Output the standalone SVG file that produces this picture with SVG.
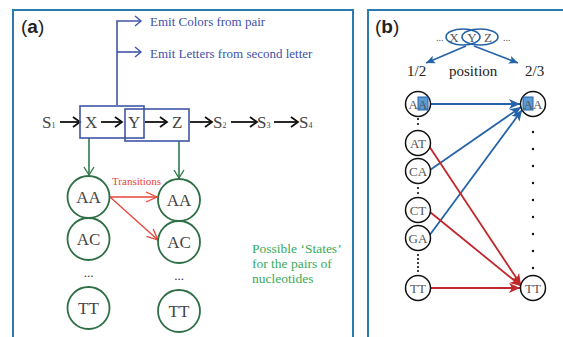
<svg xmlns="http://www.w3.org/2000/svg" width="563" height="337" viewBox="0 0 563 337">
<defs>
<style>
.frame{fill:none;stroke:#2b7bb0;stroke-width:2}
.lbl{font-family:"Liberation Sans",Arial,sans-serif;font-size:19px;fill:#222}
.mono{font-family:"Liberation Serif","Times New Roman",serif;font-size:17px;fill:#444}
.sub{font-size:8px}
.emit{font-family:"Liberation Serif","Times New Roman",serif;font-size:13px;fill:#4052a8}
.blue{fill:none;stroke:#3f56a6;stroke-width:1.6}
.blk{fill:none;stroke:#111;stroke-width:1.8}
.grn{fill:none;stroke:#2f7a4a;stroke-width:1.6}
.gcirc{fill:#fff;stroke:#2f6f45;stroke-width:1.8}
.red{fill:none;stroke:#e8443a;stroke-width:1.3}
.redtxt{font-family:"Liberation Serif","Times New Roman",serif;font-size:11px;fill:#e8443a}
.gtxt{font-family:"Liberation Serif","Times New Roman",serif;font-size:13.5px;fill:#3aaa5c}
.dots{font-family:"Liberation Serif","Times New Roman",serif;font-size:13px;fill:#333}
.bcirc{fill:#fff;stroke:#111;stroke-width:1.5}
.bmono{font-family:"Liberation Serif","Times New Roman",serif;font-size:13px;fill:#555}
.small{font-family:"Liberation Serif","Times New Roman",serif;font-size:10px;fill:#555}
.pos{font-family:"Liberation Serif","Times New Roman",serif;font-size:15px;fill:#222}
.bb{fill:none;stroke:#2563a8;stroke-width:1.8}
.rr{fill:none;stroke:#c0272d;stroke-width:1.8}
.hl{fill:#5b9bd5;stroke:#2563a8;stroke-width:1}
.dot{fill:#111}
</style>
<marker id="mBlk" markerWidth="10" markerHeight="12" refX="8" refY="6" orient="auto" markerUnits="userSpaceOnUse">
<path d="M1,1 L8,6 L1,11" fill="none" stroke="#111" stroke-width="1.8"/>
</marker>
<marker id="mBlue" markerWidth="10" markerHeight="12" refX="8" refY="6" orient="auto" markerUnits="userSpaceOnUse">
<path d="M2,1 L8,6 L2,11" fill="none" stroke="#3f56a6" stroke-width="1.4"/>
</marker>
<marker id="mGrn" markerWidth="12" markerHeight="12" refX="10" refY="6" orient="auto" markerUnits="userSpaceOnUse">
<path d="M2,1 L10,6 L2,11" fill="none" stroke="#2f7a4a" stroke-width="1.4"/>
</marker>
<marker id="mRed" markerWidth="14" markerHeight="12" refX="12" refY="6" orient="auto" markerUnits="userSpaceOnUse">
<path d="M1,1 L12,6 L1,11" fill="none" stroke="#e8443a" stroke-width="1.3"/>
</marker>
<marker id="mBB" markerWidth="12" markerHeight="12" refX="11" refY="6" orient="auto" markerUnits="userSpaceOnUse">
<path d="M0,1 L11,6 L0,11 L3,6 Z" fill="#2563a8"/>
</marker>
<marker id="mRR" markerWidth="12" markerHeight="12" refX="11" refY="6" orient="auto" markerUnits="userSpaceOnUse">
<path d="M0,1 L11,6 L0,11 L3,6 Z" fill="#c0272d"/>
</marker>
<marker id="mSB" markerWidth="10" markerHeight="10" refX="9" refY="5" orient="auto" markerUnits="userSpaceOnUse">
<path d="M0,1 L9,5 L0,9 L2,5 Z" fill="#2563a8"/>
</marker>
</defs>

<rect width="563" height="337" fill="#fff"/>

<!-- Panel (a) -->
<g id="panel-a">
<rect class="frame" x="13" y="10" width="340" height="345"/>
<text class="lbl" x="21" y="33">(<tspan font-weight="bold">a</tspan>)</text>
</g>

<g id="connectors-a">
<path class="blue" d="M117,105 V21 H141" marker-end="url(#mBlue)"/>
<path class="blue" d="M117,52 H141" marker-end="url(#mBlue)"/>
<line class="blk" x1="60" y1="122" x2="80" y2="122" marker-end="url(#mBlk)"/>
<line class="blk" x1="101" y1="122" x2="122" y2="122" marker-end="url(#mBlk)"/>
<line class="blk" x1="145" y1="122" x2="167" y2="122" marker-end="url(#mBlk)"/>
<line class="blk" x1="190" y1="122" x2="212" y2="122" marker-end="url(#mBlk)"/>
<line class="blk" x1="231" y1="122" x2="257" y2="122" marker-end="url(#mBlk)"/>
<line class="blk" x1="274" y1="122" x2="298" y2="122" marker-end="url(#mBlk)"/>
<line class="grn" x1="89" y1="138" x2="89" y2="175" marker-end="url(#mGrn)"/>
<line class="grn" x1="179" y1="141" x2="179" y2="178" marker-end="url(#mGrn)"/>
<line class="red" x1="110" y1="197" x2="157" y2="197" marker-end="url(#mRed)"/>
<line class="red" x1="110" y1="197" x2="158" y2="240" marker-end="url(#mRed)"/>
</g>

<g id="emit-labels">
<text class="emit" x="150" y="26">Emit Colors from pair</text>
<text class="emit" x="150" y="58">Emit Letters from second letter</text>
</g>

<g id="sequence">
<text class="mono" x="42" y="128">S<tspan class="sub">1</tspan></text>
<text class="mono" x="85" y="128">X</text>
<text class="mono" x="128" y="128">Y</text>
<text class="mono" x="172" y="128">Z</text>
<text class="mono" x="213" y="128">S<tspan class="sub">2</tspan></text>
<text class="mono" x="257" y="128">S<tspan class="sub">3</tspan></text>
<text class="mono" x="299" y="128">S<tspan class="sub">4</tspan></text>
</g>

<g id="box-xy">
<rect x="80" y="106" width="64" height="32" fill="none" stroke="#3f56a6" stroke-width="1.6"/>
</g>
<g id="box-yz">
<rect x="125" y="109" width="64" height="32" fill="none" stroke="#3f56a6" stroke-width="1.6"/>
</g>

<g id="states-left">
<circle class="gcirc" cx="88.5" cy="197" r="21"/>
<text class="mono" x="88.5" y="203" text-anchor="middle">AA</text>
<circle class="gcirc" cx="88.5" cy="239" r="21"/>
<text class="mono" x="88.5" y="245" text-anchor="middle">AC</text>
<text class="dots" x="88.5" y="277" text-anchor="middle">...</text>
<circle class="gcirc" cx="88.5" cy="308" r="21"/>
<text class="mono" x="88.5" y="314" text-anchor="middle">TT</text>
</g>

<g id="states-right">
<circle class="gcirc" cx="179" cy="200" r="21"/>
<text class="mono" x="179" y="206" text-anchor="middle">AA</text>
<circle class="gcirc" cx="179" cy="242" r="21"/>
<text class="mono" x="179" y="248" text-anchor="middle">AC</text>
<text class="dots" x="179" y="280" text-anchor="middle">...</text>
<circle class="gcirc" cx="179" cy="311" r="21"/>
<text class="mono" x="179" y="317" text-anchor="middle">TT</text>
</g>

<g id="transitions-label">
<text class="redtxt" x="112" y="185">Transitions</text>
</g>

<g id="states-note">
<text class="gtxt" x="252" y="253">Possible ‘States’</text>
<text class="gtxt" x="252" y="268">for the pairs of</text>
<text class="gtxt" x="252" y="283">nucleotides</text>
</g>

<!-- Panel (b) -->
<g id="panel-b">
<rect class="frame" x="368" y="10" width="205" height="345"/>
<text class="lbl" x="375" y="33">(<tspan font-weight="bold">b</tspan>)</text>
</g>

<g id="window">
<ellipse cx="463" cy="37" rx="17" ry="8" fill="none" stroke="#2563a8" stroke-width="1.6"/>
<ellipse cx="480" cy="37" rx="18" ry="8" fill="none" stroke="#2563a8" stroke-width="1.6"/>
<text class="small" x="436" y="41">...</text>
<text class="bmono" x="454" y="41.5" text-anchor="middle">X</text>
<text class="bmono" x="472" y="41.5" text-anchor="middle">Y</text>
<text class="bmono" x="488" y="41.5" text-anchor="middle">Z</text>
<text class="small" x="503" y="41">...</text>
</g>

<g id="position-labels">
<text class="pos" x="407" y="76">1/2</text>
<text class="pos" x="449" y="76">position</text>
<text class="pos" x="525" y="76">2/3</text>
</g>

<g id="connectors-b">
<line x1="466" y1="46" x2="426" y2="63" stroke="#2563a8" stroke-width="1.6" marker-end="url(#mSB)"/>
<line x1="474" y1="46" x2="518" y2="63" stroke="#2563a8" stroke-width="1.6" marker-end="url(#mSB)"/>
<line class="bb" x1="430" y1="104" x2="520" y2="104" marker-end="url(#mBB)"/>
<line class="bb" x1="430" y1="170" x2="521" y2="107" marker-end="url(#mBB)"/>
<line class="bb" x1="429" y1="236" x2="522" y2="110" marker-end="url(#mBB)"/>
<line class="rr" x1="429" y1="146" x2="521" y2="285" marker-end="url(#mRR)"/>
<line class="rr" x1="430" y1="212" x2="521" y2="286" marker-end="url(#mRR)"/>
<line class="rr" x1="431" y1="288" x2="520" y2="288" marker-end="url(#mRR)"/>
</g>

<g id="left-AA">
<circle class="bcirc" cx="418" cy="104" r="12.5"/>
<rect class="hl" x="418" y="97" width="10" height="13"/>
<text class="bmono" x="418" y="108.5" text-anchor="middle">AA</text>
</g>
<g id="left-AT">
<circle class="bcirc" cx="418" cy="143" r="12.5"/>
<text class="bmono" x="418" y="147.5" text-anchor="middle">AT</text>
</g>
<g id="left-CA">
<circle class="bcirc" cx="418" cy="171" r="12.5"/>
<text class="bmono" x="418" y="175.5" text-anchor="middle">CA</text>
</g>
<g id="left-CT">
<circle class="bcirc" cx="418" cy="210" r="12.5"/>
<text class="bmono" x="418" y="214.5" text-anchor="middle">CT</text>
</g>
<g id="left-GA">
<circle class="bcirc" cx="418" cy="238" r="12.5"/>
<text class="bmono" x="418" y="242.5" text-anchor="middle">GA</text>
</g>
<g id="left-TT">
<circle class="bcirc" cx="418" cy="288" r="12.5"/>
<text class="bmono" x="418" y="292.5" text-anchor="middle">TT</text>
</g>
<g id="right-AA">
<circle class="bcirc" cx="533" cy="104" r="12.5"/>
<rect class="hl" x="523" y="97" width="10" height="13"/>
<text class="bmono" x="533" y="108.5" text-anchor="middle">AA</text>
</g>
<g id="right-TT">
<circle class="bcirc" cx="533" cy="288" r="12.5"/>
<text class="bmono" x="533" y="292.5" text-anchor="middle">TT</text>
</g>

<g id="ellipsis-dots">
<circle class="dot" cx="418" cy="119" r="1.1"/>
<circle class="dot" cx="418" cy="124" r="1.1"/>
<circle class="dot" cx="418" cy="188" r="1.1"/>
<circle class="dot" cx="418" cy="193" r="1.1"/>
<circle class="dot" cx="418" cy="255" r="1.1"/>
<circle class="dot" cx="418" cy="259" r="1.1"/>
<circle class="dot" cx="418" cy="263" r="1.1"/>
<circle class="dot" cx="418" cy="267" r="1.1"/>
<circle class="dot" cx="418" cy="271" r="1.1"/>
<circle class="dot" cx="533" cy="132" r="1.2"/>
<circle class="dot" cx="533" cy="149" r="1.2"/>
<circle class="dot" cx="533" cy="166" r="1.2"/>
<circle class="dot" cx="533" cy="183" r="1.2"/>
<circle class="dot" cx="533" cy="200" r="1.2"/>
<circle class="dot" cx="533" cy="217" r="1.2"/>
<circle class="dot" cx="533" cy="234" r="1.2"/>
<circle class="dot" cx="533" cy="251" r="1.2"/>
<circle class="dot" cx="533" cy="268" r="1.2"/>
</g>
</svg>
